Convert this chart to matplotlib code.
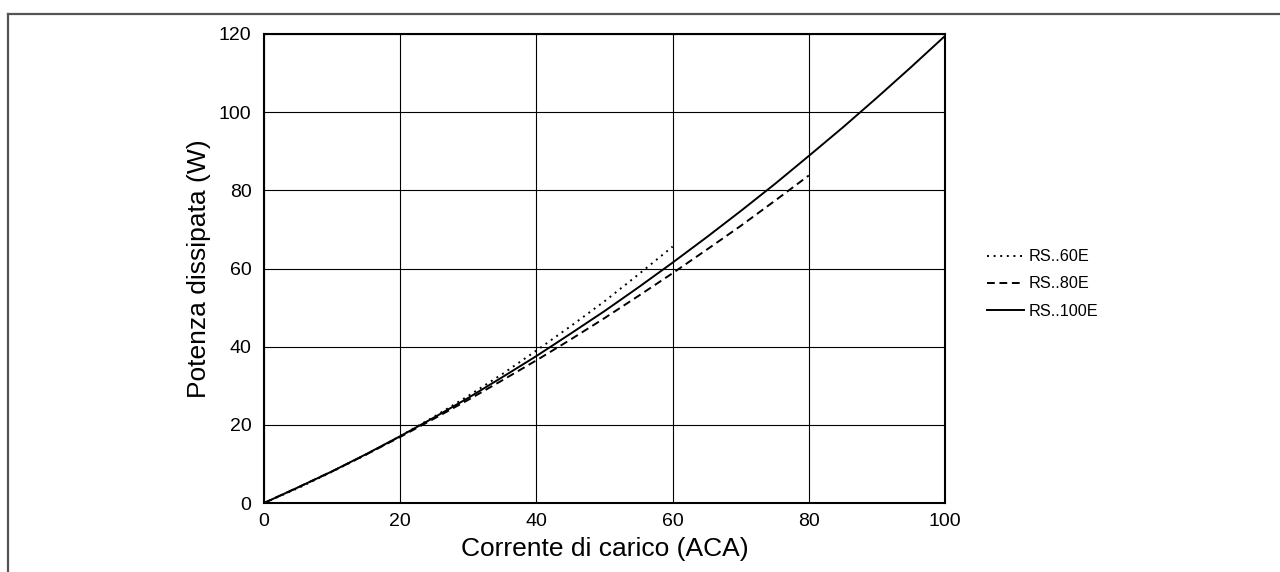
import matplotlib
matplotlib.use("Agg")
import matplotlib.pyplot as plt
from matplotlib.lines import Line2D

plt.rcParams['font.family'] = ['Liberation Sans', 'DejaVu Sans']

# Data
current_60 = [0, 5, 10, 15, 20, 25, 30, 35, 40, 45, 50, 55, 60]
power_60 = [0, 3.8, 8.0, 12.4, 17.1, 22.1, 27.4, 33.0, 39.0, 45.2, 51.6, 58.5, 65.6]

current_80 = [0, 5, 10, 15, 20, 25, 30, 35, 40, 45, 50, 55, 60, 65, 70, 75, 80]
power_80 = [0, 4.0, 8.1, 12.4, 16.9, 21.6, 26.4, 31.4, 36.5, 41.8, 47.3, 53.0, 58.8, 64.8, 70.9, 77.3, 83.8]

current_100 = [0, 5, 10, 15, 20, 25, 30, 35, 40, 45, 50, 55, 60, 65, 70, 75, 80, 85, 90, 95, 100]
power_100 = [0, 4.0, 8.1, 12.5, 17.1, 21.9, 26.9, 32.2, 37.6, 43.3, 49.1, 55.2, 61.5, 68.0, 74.7, 81.6, 88.8, 96.1, 103.7, 111.5, 119.5]

labels = ["RS..60E", "RS..80E", "RS..100E"]
x_ticks = [0, 20, 40, 60, 80, 100]
y_ticks = [0, 20, 40, 60, 80, 100, 120]

fig = plt.figure(figsize=(12.8, 5.72), dpi=100)
ax = fig.add_axes([264/1280, 69/572, (945-264)/1280, (503-34)/572])

ax.plot(current_60, power_60, color='black', lw=1.4, linestyle=(0, (1.0, 2.4)), label=labels[0])
ax.plot(current_80, power_80, color='black', lw=1.4, linestyle=(0, (4, 2.4)), label=labels[1])
ax.plot(current_100, power_100, color='black', lw=1.4, linestyle='-', label=labels[2])

ax.set_xlim(0, 100)
ax.set_ylim(0, 120)
ax.set_xticks(x_ticks)
ax.set_yticks(y_ticks)
ax.grid(True, color='black', lw=0.8)
ax.tick_params(length=0, labelsize=14, pad=9)
ax.tick_params(axis='x', pad=7)
for s in ax.spines.values():
    s.set_linewidth(1.5)
    s.set_color('black')

ax.set_xlabel("Corrente di carico (ACA)", fontsize=19, labelpad=5)
ax.set_ylabel("Potenza dissipata (W)", fontsize=19, labelpad=6)

leg = ax.legend(loc='center left', bbox_to_anchor=(1.04, 0.467), frameon=False,
                fontsize=11.7, handlelength=2.3, handletextpad=0.3, labelspacing=0.75)

# figure border (top and left)
fig.add_artist(Line2D([8/1280, 1], [1 - 14/572, 1 - 14/572], transform=fig.transFigure,
                      color='#555555', lw=1.6))
fig.add_artist(Line2D([8/1280, 8/1280], [0, 1 - 14/572], transform=fig.transFigure,
                      color='#555555', lw=1.6))

fig.savefig("out.png", dpi=100)
